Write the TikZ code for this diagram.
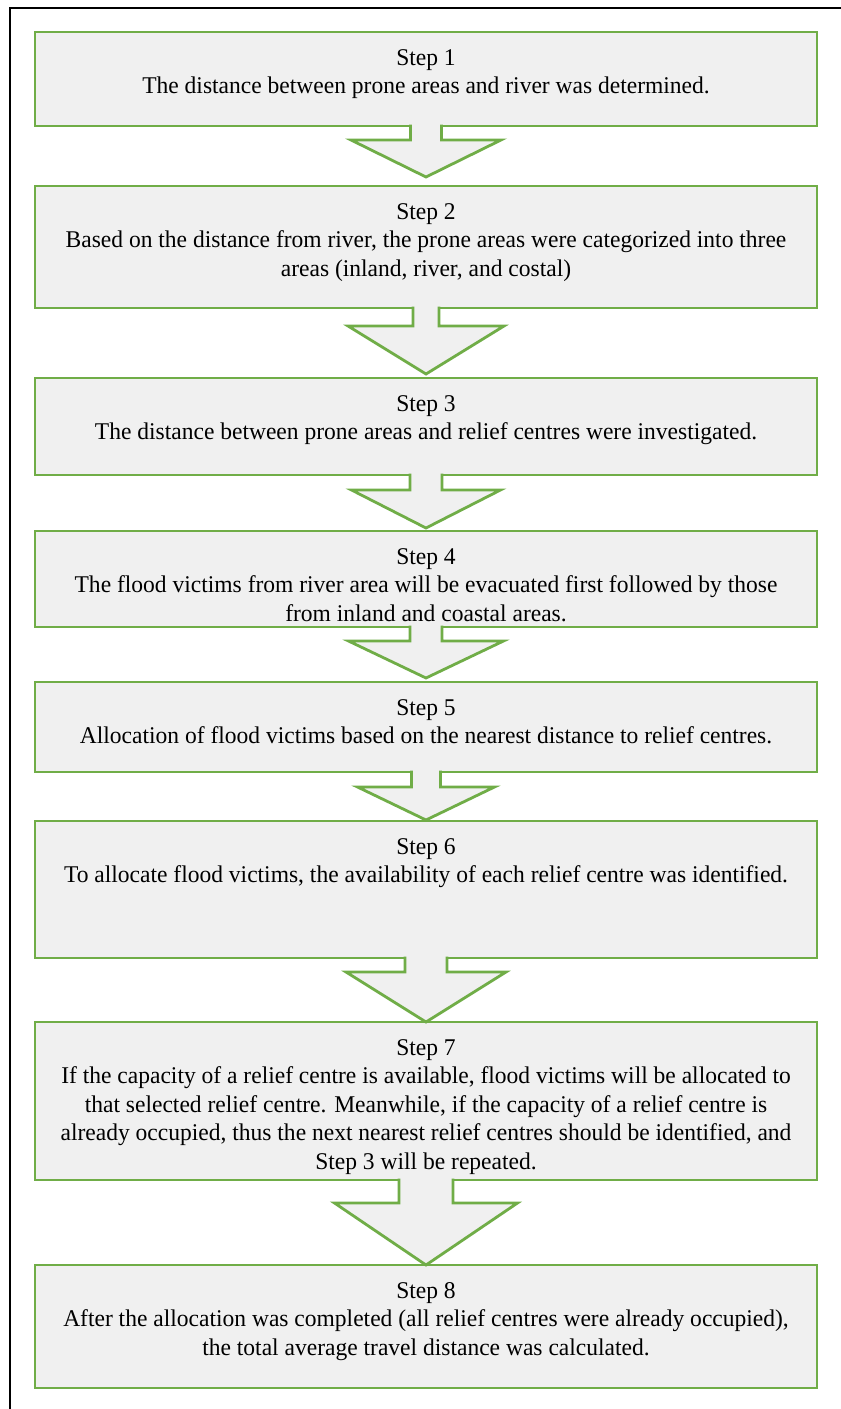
\documentclass[tikz,border=0pt]{standalone}
\usepackage{fontspec}
\setmainfont{Liberation Serif}[FakeStretch=0.98]
\definecolor{boxgreen}{HTML}{70AD47}
\definecolor{boxfill}{HTML}{F0F0F0}
\newcommand\stepflowarrow[6]{% #1 from, #2 to, #3 stem half width, #4 head half width, #5 shoulder depth, #6 tip gap
  \filldraw[flowarr] ([xshift=-#3pt,yshift=1.5pt]#1.south) -- ([xshift=-#3pt,yshift=-#5pt]#1.south) -- ([xshift=-#4pt,yshift=-#5pt]#1.south) -- ([yshift=#6pt]#2.north) -- ([xshift=#4pt,yshift=-#5pt]#1.south) -- ([xshift=#3pt,yshift=-#5pt]#1.south) -- ([xshift=#3pt,yshift=1.5pt]#1.south);
}
\begin{document}
\begin{tikzpicture}[x=1pt,y=-1pt,
  stepbox/.style={draw=boxgreen, line width=2.8pt, fill=boxfill, inner sep=0pt, outer sep=0pt, anchor=north west, minimum width=782pt},
  steptext/.style={anchor=north, inner sep=0pt, align=center, font=\fontsize{24}{28.5}\selectfont},
  flowarr/.style={draw=boxgreen, fill=boxfill, line width=2.8pt, line join=miter}]

\useasboundingbox (0,0) rectangle (841,1409);
\fill[white] (0,0) rectangle (841,1409);
\draw[line width=2.5pt] (10,1409) -- (10,8) -- (841,8);

\node[stepbox, minimum height=94pt]  (b1) at (35,32) {};
\node[stepbox, minimum height=122pt] (b2) at (35,186) {};
\node[stepbox, minimum height=97pt]  (b3) at (35,378) {};
\node[stepbox, minimum height=96pt]  (b4) at (35,531) {};
\node[stepbox, minimum height=90pt]  (b5) at (35,682) {};
\node[stepbox, minimum height=137pt] (b6) at (35,821) {};
\node[stepbox, minimum height=158pt] (b7) at (35,1022) {};
\node[stepbox, minimum height=123pt] (b8) at (35,1265) {};

\stepflowarrow{b1}{b2}{15.5}{75}{14}{9}
\stepflowarrow{b2}{b3}{13}{78}{18}{4}
\stepflowarrow{b3}{b4}{16}{74.5}{15}{3}
\stepflowarrow{b4}{b5}{16}{77.5}{14}{4}
\stepflowarrow{b5}{b6}{14.5}{68.5}{15}{1}
\stepflowarrow{b6}{b7}{21}{80}{14}{0}
\stepflowarrow{b7}{b8}{27}{91.5}{23}{0}

\node[steptext] (t1) at ([yshift=-17pt]b1.north) {Step 1\\The distance between prone areas and river was determined.};
\node[steptext] (t2) at ([yshift=-17pt]b2.north) {Step 2\\Based on the distance from river, the prone areas were categorized into three\\areas (inland, river, and costal)};
\node[steptext] (t3) at ([yshift=-17pt]b3.north) {Step 3\\The distance between prone areas and relief centres were investigated.};
\node[steptext] (t4) at ([yshift=-17pt]b4.north) {Step 4\\The flood victims from river area will be evacuated first followed by those\\from inland and coastal areas.};
\node[steptext] (t5) at ([yshift=-17pt]b5.north) {Step 5\\Allocation of flood victims based on the nearest distance to relief centres.};
\node[steptext] (t6) at ([yshift=-17pt]b6.north) {Step 6\\To allocate flood victims, the availability of each relief centre was identified.};
\node[steptext] (t7) at ([yshift=-17pt]b7.north) {Step 7\\If the capacity of a relief centre is available, flood victims will be allocated to\\that selected relief centre. Meanwhile, if the capacity of a relief centre is\\already occupied, thus the next nearest relief centres should be identified, and\\Step 3 will be repeated.};
\node[steptext] (t8) at ([yshift=-17pt]b8.north) {Step 8\\After the allocation was completed (all relief centres were already occupied),\\the total average travel distance was calculated.};
\end{tikzpicture}
\end{document}
